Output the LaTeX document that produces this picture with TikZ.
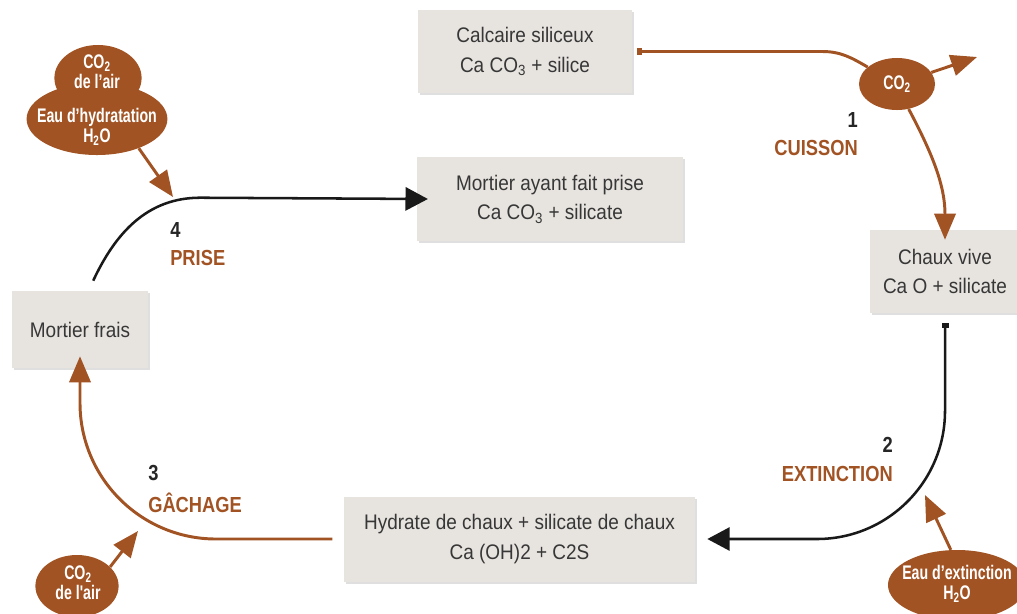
\documentclass[tikz,border=0pt]{standalone}
\usepackage{fontspec}
\setmainfont{Liberation Sans}[FakeStretch=0.9]
\newfontfamily\ovalfont{Liberation Sans}[FakeStretch=0.72]
\newfontfamily\stepfont{Liberation Sans}[FakeStretch=0.84]
\usepackage{tikz}
\usetikzlibrary{positioning,arrows.meta,shapes.geometric,shadows}
\usepackage{xcolor}
\definecolor{rouille}{RGB}{162,83,35}
\definecolor{pierre}{RGB}{231,227,223}
\definecolor{encre}{RGB}{55,55,55}

\tikzset{
  carre/.tip={Square[length=3.5pt,width=5pt]},
  tipb/.tip={Triangle[length=0.65cm,width=0.53cm]},
  tipn/.tip={Triangle[length=0.56cm,width=0.58cm]},
  etat/.style={fill=pierre,text=encre,align=center,inner sep=0pt,
    font=\fontsize{15}{21}\selectfont,
    drop shadow={shadow xshift=1.5pt,shadow yshift=-1.5pt,opacity=.25}},
  bulle/.style={ellipse,fill=rouille,inner sep=0pt},
  bulletxt/.style={text=white,align=center,inner sep=0pt,
    font=\ovalfont\bfseries\fontsize{14}{14.5}\selectfont},
  etape/.style={text=rouille,inner sep=0pt,
    font=\stepfont\bfseries\fontsize{15.5}{18}\selectfont},
  numero/.style={text=black!85,inner sep=0pt,
    font=\stepfont\bfseries\fontsize{15.5}{18}\selectfont},
  flecheb/.style={draw=rouille,line width=2.1pt},
  flechen/.style={draw=black!90,line width=1.8pt}
}

\begin{document}
\begin{tikzpicture}[x=0.025cm,y=-0.025cm]
    \useasboundingbox (0,0) rectangle (1017,613);

    \node[etat,minimum width=5.35cm,minimum height=2.075cm] (calc)
      at (525,51.5) {Calcaire siliceux\\Ca CO\textsubscript{3} + silice};
    \node[etat,minimum width=6.65cm,minimum height=2.1cm] (prise)
      at (550,199) {Mortier ayant fait prise\\Ca CO\textsubscript{3} + silicate};
    \node[etat,minimum width=3.75cm,minimum height=2.075cm] (vive)
      at (945,271.5) {Chaux vive\\Ca O + silicate};
    \node[etat,minimum width=3.4cm,minimum height=1.925cm] (frais)
      at (80,329.5) {Mortier frais};
    \node[etat,minimum width=8.775cm,minimum height=2.125cm] (hydrate)
      at (519.5,539) {Hydrate de chaux + silicate de chaux\\Ca (OH)2 + C2S};

    \node[bulle,minimum width=1.9cm,minimum height=1.3cm] (co2cuis)
      at (897,84) {};
    \node[bulletxt] (co2cuistxt) at (co2cuis) {CO\textsubscript{2}};
    \node[bulle,minimum width=2.18cm,minimum height=1.65cm] (airhaut)
      at (98,78) {};
    \node[bulle,minimum width=3.52cm,minimum height=1.8cm] (eauhyd)
      at (97,119) {};
    \node[bulletxt] (airhauttxt) at (97,72) {CO\textsubscript{2}\\de l’air};
    \node[bulletxt] (eauhydtxt) at (97,127) {Eau d’hydratation\\H\textsubscript{2}O};
    \node[bulle,minimum width=2.08cm,minimum height=1.55cm] (airbas)
      at (77,586) {};
    \node[bulletxt] (airbastxt) at (78,583) {CO\textsubscript{2}\\de l'air};
    \node[bulle,minimum width=3.45cm,minimum height=1.75cm] (eauext)
      at (957,585) {};
    \node[bulletxt] (eauexttxt) at (957,584) {Eau d’extinction\\H\textsubscript{2}O};

    \coordinate (co2sortie) at (977,57);
    \coordinate (hydcible) at (173,197);
    \coordinate (airbascible) at (138,531);
    \coordinate (extcible) at (925,495);

    \draw[flecheb,carre-] ([xshift=0.12cm]calc.east) -- ++(185,0)
      to[out=0,in=150] (co2cuis);
    \draw[flecheb,-tipb] (co2cuis) -- (co2sortie);
    \draw[flecheb,-tipb] (co2cuis.-65) to[out=-62,in=90] ([yshift=-0.25cm]vive.north);
    \draw[flechen,carre-tipn,rounded corners=3.2cm] ([yshift=-0.25cm]vive.south)
      |- ([xshift=0.3cm]hydrate.east);
    \draw[flecheb,-tipb,rounded corners=3.4cm] ([xshift=-0.28cm]hydrate.west)
      -| ([yshift=0.3cm]frais.south);
    \draw[flechen,-tipn] ([shift={(0.33cm,0.25cm)}]frais.north)
      to[out=65,in=180] ++(107,-83) -- ([xshift=0.28cm]prise.west);

    \draw[flecheb,-tipb] (eauhyd.-35) -- (hydcible);
    \draw[flecheb,-tipb] (airbas.30) -- (airbascible);
    \draw[flecheb,-tipb] (eauext.100) -- (extcible);

    \node[numero,anchor=east] (num1) at (858,120) {1};
    \node[etape,anchor=east] (cuisson) at (858,148) {CUISSON};
    \node[numero,anchor=east] (num2) at (893,445) {2};
    \node[etape,anchor=east] (extinction) at (893,474) {EXTINCTION};
    \node[numero,anchor=west] (num3) at (148,473) {3};
    \node[etape,anchor=west] (gachage) at (148,503) {GÂCHAGE};
    \node[numero,anchor=west] (num4) at (170,230) {4};
    \node[etape,anchor=west] (prisetxt) at (170,258) {PRISE};
  \end{tikzpicture}
\end{document}
